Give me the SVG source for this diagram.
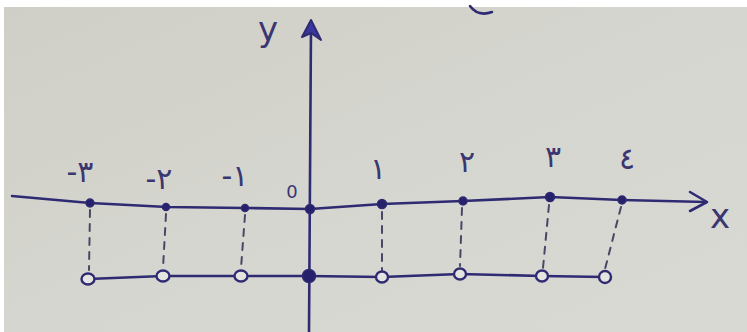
<svg xmlns="http://www.w3.org/2000/svg" width="747" height="332" viewBox="0 0 747 332">
<defs>
<linearGradient id="bg" x1="0" y1="0" x2="1" y2="1">
<stop offset="0" stop-color="#cfcfc7"/>
<stop offset="0.5" stop-color="#d6d6d0"/>
<stop offset="1" stop-color="#d9d9d4"/>
</linearGradient>
<style>
.ink{fill:none;stroke:#2f2b72;stroke-width:2.6;stroke-linecap:round;stroke-linejoin:round}
.dash{fill:none;stroke:#4a4766;stroke-width:2;stroke-dasharray:7 7;stroke-linecap:round}
.dot{fill:#25216a;stroke:#2f2b72;stroke-width:1.5}
.ring{fill:#e4e4e0;stroke:#2f2b72;stroke-width:2.4}
.lbl{font-family:"DejaVu Sans",sans-serif;font-size:30px;fill:#3a3670;text-anchor:middle;direction:ltr;unicode-bidi:bidi-override;letter-spacing:2px}
.ax{font-family:"DejaVu Sans",sans-serif;font-size:34px;fill:#3a3670;text-anchor:middle}
</style>
</defs>
<rect x="0" y="0" width="747" height="332" fill="#ffffff"/>
<rect x="4" y="7" width="743" height="325" fill="url(#bg)"/>
<path class="ink" d="M470,6 Q478,17 492,12" stroke-width="2"/>

<g id="connectors">
<path class="ink" d="M12,196 L90,203 L167,207 L245,208 L310,209 L382,204 L463,201 L550,197 L622,200 L706,202"/>
<path class="ink" d="M690,192 L707,202 L690,211"/>
<path class="ink" d="M309,332 L311,26"/>
<path d="M311,20 L302,37 L311,33 L321,40 Z" fill="#3b35a0" stroke="#2f2b72" stroke-width="2" stroke-linejoin="round"/>
<path class="ink" d="M88,279 L163,276 L241,276 L308,276 L382,277 L460,274 L542,276 L605,277"/>
<path class="dash" d="M90,210 L89,270"/>
<path class="dash" d="M166,214 L163,268"/>
<path class="dash" d="M245,215 L241,268"/>
<path class="dash" d="M382,212 L382,270"/>
<path class="dash" d="M462,208 L460,266"/>
<path class="dash" d="M549,205 L543,268"/>
<path class="dash" d="M621,207 L605,269"/>
</g>

<g id="axis-y"><text class="ax" x="268" y="41">y</text></g>
<g id="axis-x"><text class="ax" x="720" y="228">x</text></g>

<g id="p-3"><circle class="dot" cx="90" cy="203" r="4"/><text class="lbl" x="80" y="182">-٣</text><ellipse class="ring" cx="88" cy="279" rx="6.5" ry="5.5"/></g>
<g id="p-2"><circle class="dot" cx="166" cy="207" r="3.5"/><text class="lbl" x="159" y="189">-٢</text><ellipse class="ring" cx="163" cy="276" rx="6.5" ry="5.5"/></g>
<g id="p-1"><circle class="dot" cx="245" cy="208" r="3.5"/><text class="lbl" x="235" y="186">-١</text><ellipse class="ring" cx="241" cy="276" rx="6.5" ry="5.5"/></g>
<g id="p0"><circle class="dot" cx="310" cy="209" r="4.5"/><text class="lbl" x="293" y="198" style="font-size:18px">0</text><circle class="dot" cx="309" cy="276" r="6.5"/></g>
<g id="p1"><circle class="dot" cx="382" cy="204" r="4.5"/><text class="lbl" x="378" y="179">١</text><ellipse class="ring" cx="382" cy="277" rx="6" ry="5.5"/></g>
<g id="p2"><circle class="dot" cx="463" cy="201" r="4"/><text class="lbl" x="467" y="172">٢</text><ellipse class="ring" cx="460" cy="274" rx="6" ry="5.5"/></g>
<g id="p3"><circle class="dot" cx="550" cy="197" r="4.5"/><text class="lbl" x="553" y="167">٣</text><ellipse class="ring" cx="542" cy="276" rx="6" ry="5.5"/></g>
<g id="p4"><circle class="dot" cx="622" cy="200" r="4"/><text class="lbl" x="627" y="169">٤</text><ellipse class="ring" cx="605" cy="277" rx="6" ry="6"/></g>
</svg>
